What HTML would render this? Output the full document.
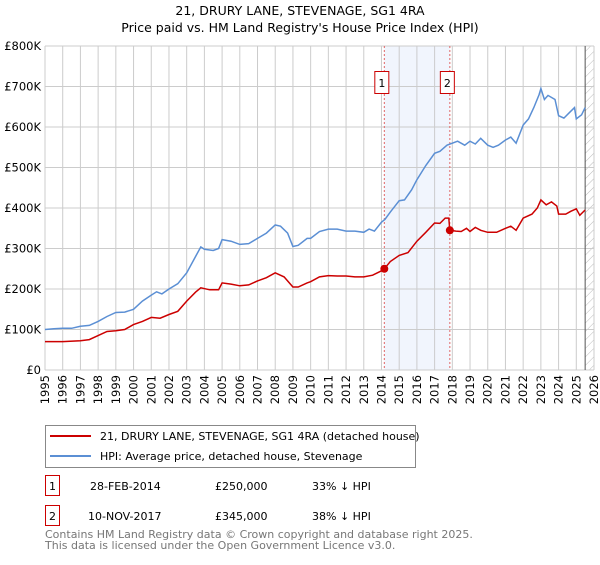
<!DOCTYPE html>
<html><head><meta charset="utf-8"><style>
body{margin:0;background:#fff;font-family:"Liberation Sans","DejaVu Sans",sans-serif}
svg text{font-family:"DejaVu Sans","Liberation Sans",sans-serif}
</style></head><body>
<svg width="600" height="560" viewBox="0 0 600 560">
<defs><pattern id="hatch" width="6" height="6" patternUnits="userSpaceOnUse" patternTransform="rotate(45)"><line x1="0" y1="0" x2="0" y2="6" stroke="#bbb" stroke-width="1"/></pattern></defs>
<text x="300" y="15" text-anchor="middle" font-size="12.5">21, DRURY LANE, STEVENAGE, SG1 4RA</text>
<text x="300" y="32" text-anchor="middle" font-size="12.5">Price paid vs. HM Land Registry's House Price Index (HPI)</text>
<g id="plot"></g>
<g>
<rect x="45.5" y="425.5" width="370" height="42" fill="#fff" stroke="#888"/>
<line x1="50" y1="436" x2="91" y2="436" stroke="#cc0000" stroke-width="2"/>
<text x="100" y="440" font-size="11">21, DRURY LANE, STEVENAGE, SG1 4RA (detached house)</text>
<line x1="50" y1="456" x2="91" y2="456" stroke="#5b8fd4" stroke-width="2"/>
<text x="100" y="460" font-size="11">HPI: Average price, detached house, Stevenage</text>
</g>
<g font-size="11">
<rect x="45.5" y="475.5" width="14" height="20" fill="#fff" stroke="#cc0000"/><text x="52.5" y="490" text-anchor="middle">1</text>
<text x="90" y="490">28-FEB-2014</text><text x="215" y="490">£250,000</text><text x="312" y="490">33% ↓ HPI</text>
<rect x="45.5" y="505.5" width="14" height="20" fill="#fff" stroke="#cc0000"/><text x="52.5" y="520" text-anchor="middle">2</text>
<text x="88" y="520">10-NOV-2017</text><text x="215" y="520">£345,000</text><text x="312" y="520">38% ↓ HPI</text>
</g>
<text x="45" y="538" font-size="11" fill="#777">Contains HM Land Registry data © Crown copyright and database right 2025.</text>
<text x="45" y="549" font-size="11" fill="#777">This data is licensed under the Open Government Licence v3.0.</text>
</svg>
<script>
const hpiYears=[1995,1995.5,1996,1996.5,1997,1997.5,1998,1998.5,1999,1999.5,2000,2000.5,2001,2001.3,2001.6,2002,2002.5,2003,2003.5,2003.8,2004,2004.5,2004.8,2005,2005.5,2006,2006.5,2007,2007.5,2008,2008.3,2008.7,2009,2009.3,2009.8,2010,2010.5,2011,2011.5,2012,2012.5,2013,2013.3,2013.6,2014,2014.2,2014.5,2015,2015.3,2015.7,2016,2016.5,2017,2017.3,2017.7,2018,2018.3,2018.7,2019,2019.3,2019.6,2020,2020.3,2020.6,2021,2021.3,2021.6,2022,2022.3,2022.6,2022.9,2023,2023.2,2023.4,2023.8,2024,2024.3,2024.6,2024.9,2025,2025.3,2025.5];
const hpiValues=[100,102,103,103,108,110,120,132,142,143,150,170,185,193,188,200,213,240,280,304,298,295,300,322,318,310,312,325,338,358,355,338,305,308,325,325,342,348,348,343,343,340,348,343,365,372,390,418,420,445,470,505,535,540,555,560,565,555,565,558,572,555,550,555,568,575,560,605,620,648,680,695,668,678,668,628,622,635,648,620,630,648];
const ppYears=[1995,1996,1997,1997.5,1998,1998.5,1999,1999.5,2000,2000.5,2001,2001.5,2002,2002.5,2003,2003.5,2003.8,2004.3,2004.8,2005,2005.5,2006,2006.5,2007,2007.5,2008,2008.5,2009,2009.3,2009.8,2010,2010.5,2011,2011.5,2012,2012.5,2013,2013.5,2014,2014.16,2014.5,2015,2015.5,2016,2016.5,2017,2017.3,2017.6,2017.8,2017.86,2018.2,2018.5,2018.8,2019,2019.3,2019.6,2020,2020.5,2021,2021.3,2021.6,2022,2022.5,2022.8,2023,2023.3,2023.6,2023.9,2024,2024.4,2024.7,2025,2025.2,2025.5];
const ppValues=[70,70,72,75,85,95,97,100,112,120,130,128,137,145,170,192,203,198,198,215,212,208,210,220,228,240,230,205,205,215,218,230,233,232,232,230,230,234,245,250,268,283,290,318,340,363,362,375,375,345,343,342,350,342,352,345,340,340,350,355,345,375,385,400,420,408,415,405,385,385,392,398,382,395];
const saleYears=[2014.16,2017.86];
const saleValues=[250,345];
const saleLabels=['1','2'];
const yTicks=[0,100,200,300,400,500,600,700,800];
const yTickLabels=['£0','£100K','£200K','£300K','£400K','£500K','£600K','£700K','£800K'];
const xTicks=[1995,1996,1997,1998,1999,2000,2001,2002,2003,2004,2005,2006,2007,2008,2009,2010,2011,2012,2013,2014,2015,2016,2017,2018,2019,2020,2021,2022,2023,2024,2025,2026];

const X0=45,X1=594,Y0=370,Y1=46;
const xs=v=>X0+(v-1995)/(2026-1995)*(X1-X0);
const ys=v=>Y0-v/800*(Y0-Y1);
const NS='http://www.w3.org/2000/svg';
const g=document.getElementById('plot');
function mk(t,a,p){const e=document.createElementNS(NS,t);for(const k in a)e.setAttribute(k,a[k]);(p||g).appendChild(e);return e;}
let band=mk('rect',{x:xs(saleYears[0]),y:Y1,width:xs(saleYears[1])-xs(saleYears[0]),height:Y0-Y1,fill:'#eef3fc',opacity:0.8});


let hz=mk('rect',{x:xs(2025.5),y:Y1,width:X1-xs(2025.5),height:Y0-Y1,fill:'url(#hatch)'});


yTicks.forEach((v,i)=>{
 let l=mk('line',{x1:X0,x2:X1,y1:ys(v),y2:ys(v),stroke:'#ccc','stroke-width':1});
 
 
 let t=mk('text',{x:X0-4,y:ys(v)+4,'text-anchor':'end','font-size':11.5});
 t.textContent=yTickLabels[i];
 
 
});
xTicks.forEach(v=>{
 let l=mk('line',{x1:xs(v),x2:xs(v),y1:Y1,y2:Y0,stroke:'#ccc','stroke-width':1});
 
 
 let t=mk('text',{x:0,y:0,'text-anchor':'end','font-size':11.5,transform:'translate('+(xs(v)+4)+','+(Y0+5)+') rotate(-90)'});
 t.textContent=v;
 
 
});
let vl=mk('line',{x1:xs(2025.5),x2:xs(2025.5),y1:Y1,y2:Y0,stroke:'#555','stroke-width':1});


saleYears.forEach((v,i)=>{
 let l=mk('line',{x1:xs(v),x2:xs(v),y1:Y1,y2:Y0,stroke:'#e06666','stroke-width':1,'stroke-dasharray':'2,2'});
 
 
 let r=mk('rect',{x:xs(v)-9.5,y:71.5,width:14,height:22,fill:'#fff',stroke:'#cc0000'});
 
 
 let t=mk('text',{x:xs(v)-2.5,y:87,'text-anchor':'middle','font-size':11});
 t.textContent=saleLabels[i];
 
 
});
function path(xa,va,color,name){
 let d=xa.map((x,i)=>(i?'L':'M')+xs(x).toFixed(1)+','+ys(va[i]).toFixed(1)).join('');
 let p=mk('path',{d:d,fill:'none',stroke:color,'stroke-width':1.5});
 
 
}
path(hpiYears,hpiValues,'#5b8fd4','hpi-line');
path(ppYears,ppValues,'#cc0000','price-paid-line');
saleYears.forEach((v,i)=>{
 let c=mk('circle',{cx:xs(v),cy:ys(saleValues[i]),r:4,fill:'#cc0000'});
 
 
});
</script>
</body></html>
